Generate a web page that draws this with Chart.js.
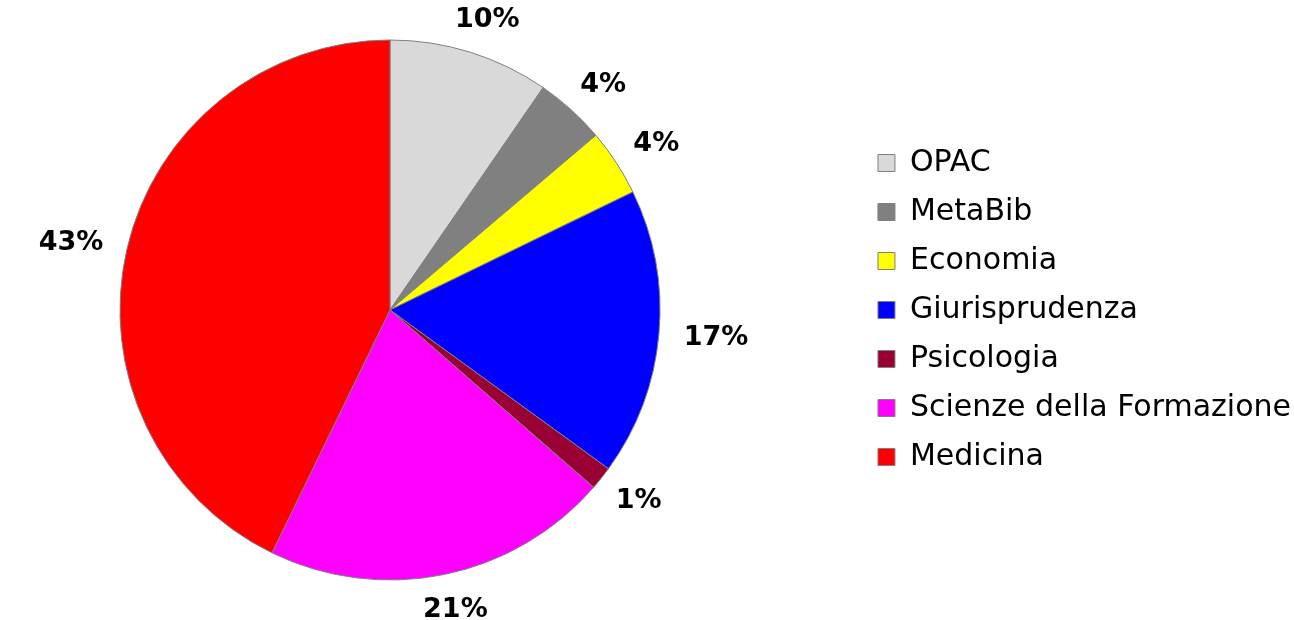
<!DOCTYPE html>
<html>
<head>
<meta charset="utf-8">
<script src="https://cdn.jsdelivr.net/npm/chart.js@4/dist/chart.umd.min.js"></script>
<style>
   html, body { margin: 0; padding: 0; background: #fff; }
</style>
</head>
<body>
<canvas id="pie" width="1294" height="620"></canvas>
<script>
var categories = ['OPAC', 'MetaBib', 'Economia', 'Giurisprudenza', 'Psicologia', 'Scienze della Formazione', 'Medicina'];
var shares = [9.6, 4.2, 4.0, 17.2, 1.4, 20.8, 42.8];
var sliceColors = ['#D9D9D9', '#808080', '#FFFF00', '#0000FF', '#990033', '#FF00FF', '#FF0000'];

var pieAreaWidth = 780;   // room kept for the pie, the rest is a gap before the legend
var legendShift = 7;

// pie sits left of centre, legend pushed to the right edge
var placeBoxes = {
   id: 'placeBoxes',
   afterLayout: function(chart) {
      var area = chart.chartArea;
      area.right = area.left + pieAreaWidth;
      area.width = pieAreaWidth;
      chart.legend.left += legendShift;
      chart.legend.right += legendShift;
   }
};

// labels outside each slice, like excel "outside end"
var outsideLabels = {
   id: 'outsideLabels',
   afterDatasetsDraw: function(chart) {
      var ctx = chart.ctx;
      var meta = chart.getDatasetMeta(0);
      var values = chart.data.datasets[0].data;
      var total = values.reduce(function(a, b) { return a + b; }, 0);
      ctx.save();
      ctx.font = 'bold 27px "DejaVu Sans"';
      ctx.fillStyle = '#000';
      ctx.textAlign = 'center';
      ctx.textBaseline = 'middle';
      meta.data.forEach(function(arc, i) {
         var a = (arc.startAngle + arc.endAngle) / 2;
         var txt = Math.round(values[i] / total * 100) + '%';
         var w = ctx.measureText(txt).width;
         var h = 20;
         var r = arc.outerRadius + 25;
         var x = arc.x + Math.cos(a) * (r + w / 2);
         var y = arc.y + Math.sin(a) * (r + h / 2);
         ctx.fillText(txt, x, y + 1);
      });
      ctx.restore();
   }
};

var ctx = document.getElementById('pie');

new Chart(ctx, {
   type: 'pie',
   data: {
      labels: categories,
      datasets: [{
         data: shares,
         backgroundColor: sliceColors,
         borderColor: '#7F7F7F',
         borderWidth: 1,
      }]
   },
   plugins: [placeBoxes, outsideLabels],
   options: {
      responsive: false,
      animation: false,
      radius: 270,
      layout: {
         padding: 0
      },
      plugins: {
         tooltip: { enabled: false },
         legend: {
            position: 'right',
            labels: {
               boxWidth: 17,
               boxHeight: 17,
               padding: 19,
               color: '#000',
               font: {
                  family: '"DejaVu Sans"',
                  size: 30
               },
               generateLabels: function(chart) {
                  return chart.data.labels.map(function(l, i) {
                     return {
                        text: l,
                        fillStyle: sliceColors[i],
                        strokeStyle: '#7F7F7F',
                        lineWidth: 1,
                        fontColor: '#000',
                        index: i
                     };
                  });
               }
            }
         }
      }
   }
});
</script>
</body>
</html>
